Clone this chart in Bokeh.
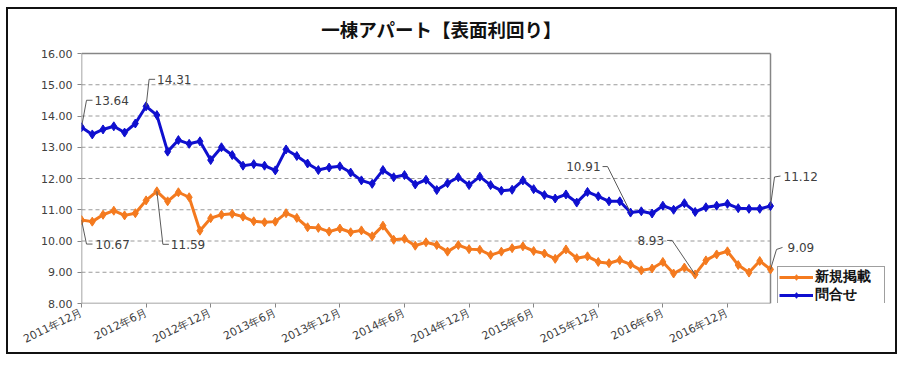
from bokeh.plotting import figure
from bokeh.models import (FixedTicker, NumeralTickFormatter, Label, Legend,
                          LegendItem, Range1d)
from bokeh.embed import file_html
from bokeh.resources import INLINE

TITLE = "一棟アパート【表面利回り】"
SERIES_NEW = "新規掲載"
SERIES_INQ = "問合せ"

tick_labels = ["2011年12月", "2012年6月", "2012年12月", "2013年6月", "2013年12月",
               "2014年6月", "2014年12月", "2015年6月", "2015年12月", "2016年6月",
               "2016年12月"]
tick_step = 6
y_ticks = [8, 9, 10, 11, 12, 13, 14, 15, 16]

# 問合せ (inquiries), monthly Dec 2011 - Apr 2017
inquiry = [13.64, 13.41, 13.57, 13.67, 13.47, 13.76, 14.31, 14.03, 12.86, 13.23,
           13.11, 13.19, 12.59, 13.00, 12.75, 12.41, 12.46, 12.41, 12.26, 12.93,
           12.72, 12.48, 12.27, 12.35, 12.39, 12.19, 11.94, 11.83, 12.27, 12.04,
           12.11, 11.81, 11.96, 11.63, 11.85, 12.04, 11.79, 12.06, 11.79, 11.61,
           11.64, 11.94, 11.66, 11.47, 11.36, 11.49, 11.23, 11.57, 11.43, 11.27,
           11.27, 10.91, 10.95, 10.88, 11.13, 11.00, 11.21, 10.93, 11.08, 11.13,
           11.19, 11.05, 11.03, 11.03, 11.12]

# 新規掲載 (new listings)
new_listing = [10.67, 10.62, 10.84, 10.97, 10.82, 10.89, 11.30, 11.59, 11.27, 11.56,
               11.40, 10.33, 10.73, 10.84, 10.87, 10.78, 10.63, 10.60, 10.62, 10.89,
               10.74, 10.44, 10.42, 10.30, 10.40, 10.28, 10.34, 10.15, 10.49, 10.04,
               10.07, 9.85, 9.96, 9.87, 9.66, 9.87, 9.74, 9.72, 9.55, 9.66,
               9.77, 9.83, 9.68, 9.60, 9.43, 9.73, 9.45, 9.51, 9.33, 9.29,
               9.39, 9.25, 9.06, 9.12, 9.33, 8.96, 9.15, 8.93, 9.38, 9.57,
               9.67, 9.23, 8.99, 9.36, 9.09]

# callouts: month indices that carry a value label
callouts_inq = [0, 6, 51, 64]
callouts_new = [0, 7, 57, 64]

BLUE = "#0F0FCF"
ORANGE = "#F47A1F"
GRAY = "#868686"
TXT = "#404040"

x = list(range(len(inquiry)))
x_last = len(inquiry) - 1
y_lo, y_hi = y_ticks[0], y_ticks[-1]

# visible plot area inside a larger drawing frame (room for title, labels, legend)
PLOT_W, PLOT_H = 689, 250
W, H = 891, 347
BL, BR = 73, 2
BT, TOP_EXTRA = 2, 42
BB = H - BT - TOP_EXTRA - PLOT_H
FRAME_W = W - BL - BR
ppx = PLOT_W / x_last
ppy = PLOT_H / (y_hi - y_lo)

p = figure(width=W, height=H, output_backend="svg", toolbar_location=None,
           x_range=Range1d(0, FRAME_W / ppx),
           y_range=Range1d(y_lo, y_hi + TOP_EXTRA / ppy),
           min_border_left=BL, min_border_right=BR,
           min_border_top=BT, min_border_bottom=BB)
p.styles = {"border": "2px solid #111111", "margin-left": "6px", "margin-top": "7px"}
p.background_fill_color = "white"
p.border_fill_color = "white"
p.outline_line_color = None
p.title.visible = False

yax = p.yaxis[0]
yax.ticker = FixedTicker(ticks=y_ticks)
yax.formatter = NumeralTickFormatter(format="0.00")
yax.major_label_text_font = "DejaVu Sans"
yax.major_label_text_font_size = "11px"
yax.major_label_text_color = TXT
yax.major_tick_out = 4
yax.major_tick_in = 0
yax.minor_tick_line_color = None
yax.axis_line_color = None
yax.major_tick_line_color = GRAY
yax.major_label_standoff = 5

xax = p.xaxis[0]
xax.ticker = FixedTicker(ticks=[i * tick_step for i in range(len(tick_labels))])
xax.major_label_overrides = {i * tick_step: t for i, t in enumerate(tick_labels)}
xax.major_label_orientation = 0.46
xax.major_label_text_font = "DejaVu Sans"
xax.major_label_text_font_size = "11px"
xax.major_label_text_color = TXT
xax.major_tick_out = 4
xax.major_tick_in = 0
xax.minor_tick_line_color = None
xax.axis_line_color = None
xax.major_tick_line_color = GRAY
xax.major_label_standoff = 4

p.xgrid.visible = False
p.ygrid.visible = False

# title (centred over the chart, above the plot area)
p.add_layout(Label(x=(442 - 82) / ppx, y=y_hi + 25 / ppy, text=TITLE,
                   text_align="center", text_baseline="middle",
                   text_font="Noto Sans CJK JP", text_font_size="18.5px",
                   text_font_style="bold", text_color="#111111"))

# dashed gridlines inside the plot area only
inner = y_ticks[1:-1]
p.segment(x0=[0] * len(inner), x1=[x_last] * len(inner), y0=inner, y1=inner,
          line_color="#9a9a9a", line_dash="4 3", line_width=1)
# plot-area border: top, bottom, left, right
p.segment(x0=[0, 0], x1=[x_last, x_last], y0=[y_hi, y_lo], y1=[y_hi, y_lo],
          line_color=GRAY, line_width=1.5)
p.segment(x0=[0, x_last], x1=[0, x_last], y0=[y_lo, y_lo], y1=[y_hi, y_hi],
          line_color=GRAY, line_width=1.5)

ol = p.line(x, new_listing, line_color=ORANGE, line_width=3)
om = p.scatter(x, new_listing, marker="diamond", size=9, fill_color=ORANGE,
               line_color=ORANGE)
bl = p.line(x, inquiry, line_color=BLUE, line_width=3)
bm = p.scatter(x, inquiry, marker="diamond", size=9, fill_color=BLUE,
               line_color=BLUE)

# callout geometry in screen pixels (dx right, dy down): bend, end, text offset, align
layout_inq = {0: ((5, -27), (11, -27), (13, -27), "left"),
              6: ((3, -27), (9, -27), (11, -27), "left"),
              51: ((-23, -46), (-28, -46), (-30, -46), "right"),
              64: ((4, -29), (10, -30), (13, -30), "left")}
layout_new = {0: ((5, 24), (11, 24), (14, 24), "left"),
              7: ((6, 53), (12, 53), (14, 53), "left"),
              57: ((-23, -34), (-28, -34), (-31, -34), "right"),
              64: ((6, -20), (12, -22), (17, -22), "left")}


def add_callout(series, idx, geom):
    (bx, by), (ex, ey), (tx, ty), align = geom
    xi, yi = x[idx], series[idx]
    p.line([xi, xi + bx / ppx, xi + ex / ppx], [yi, yi - by / ppy, yi - ey / ppy],
           line_color="#5a5a5a", line_width=1)
    p.add_layout(Label(x=xi, y=yi, x_offset=tx, y_offset=-ty, text=f"{yi:.2f}",
                       text_align=align, text_baseline="middle",
                       text_font="DejaVu Sans", text_font_size="12px",
                       text_color=TXT))


for i in callouts_inq:
    add_callout(inquiry, i, layout_inq[i])
for i in callouts_new:
    add_callout(new_listing, i, layout_new[i])

legend = Legend(items=[LegendItem(label=SERIES_NEW, renderers=[ol, om]),
                       LegendItem(label=SERIES_INQ, renderers=[bl, bm])],
                location=(PLOT_W + 7, -3))
legend.label_text_font = "DejaVu Sans"
legend.label_text_font_size = "13.5px"
legend.label_text_font_style = "bold"
legend.label_text_color = "#111111"
legend.border_line_color = "#404040"
legend.border_line_width = 1
legend.background_fill_color = "white"
legend.background_fill_alpha = 1
legend.padding = 1
legend.spacing = 0
legend.margin = 0
legend.glyph_width = 34
legend.glyph_height = 14
legend.label_height = 14
legend.label_width = 68
legend.label_standoff = 2
p.add_layout(legend, "center")

open("out.html", "w").write(file_html(p, INLINE))
